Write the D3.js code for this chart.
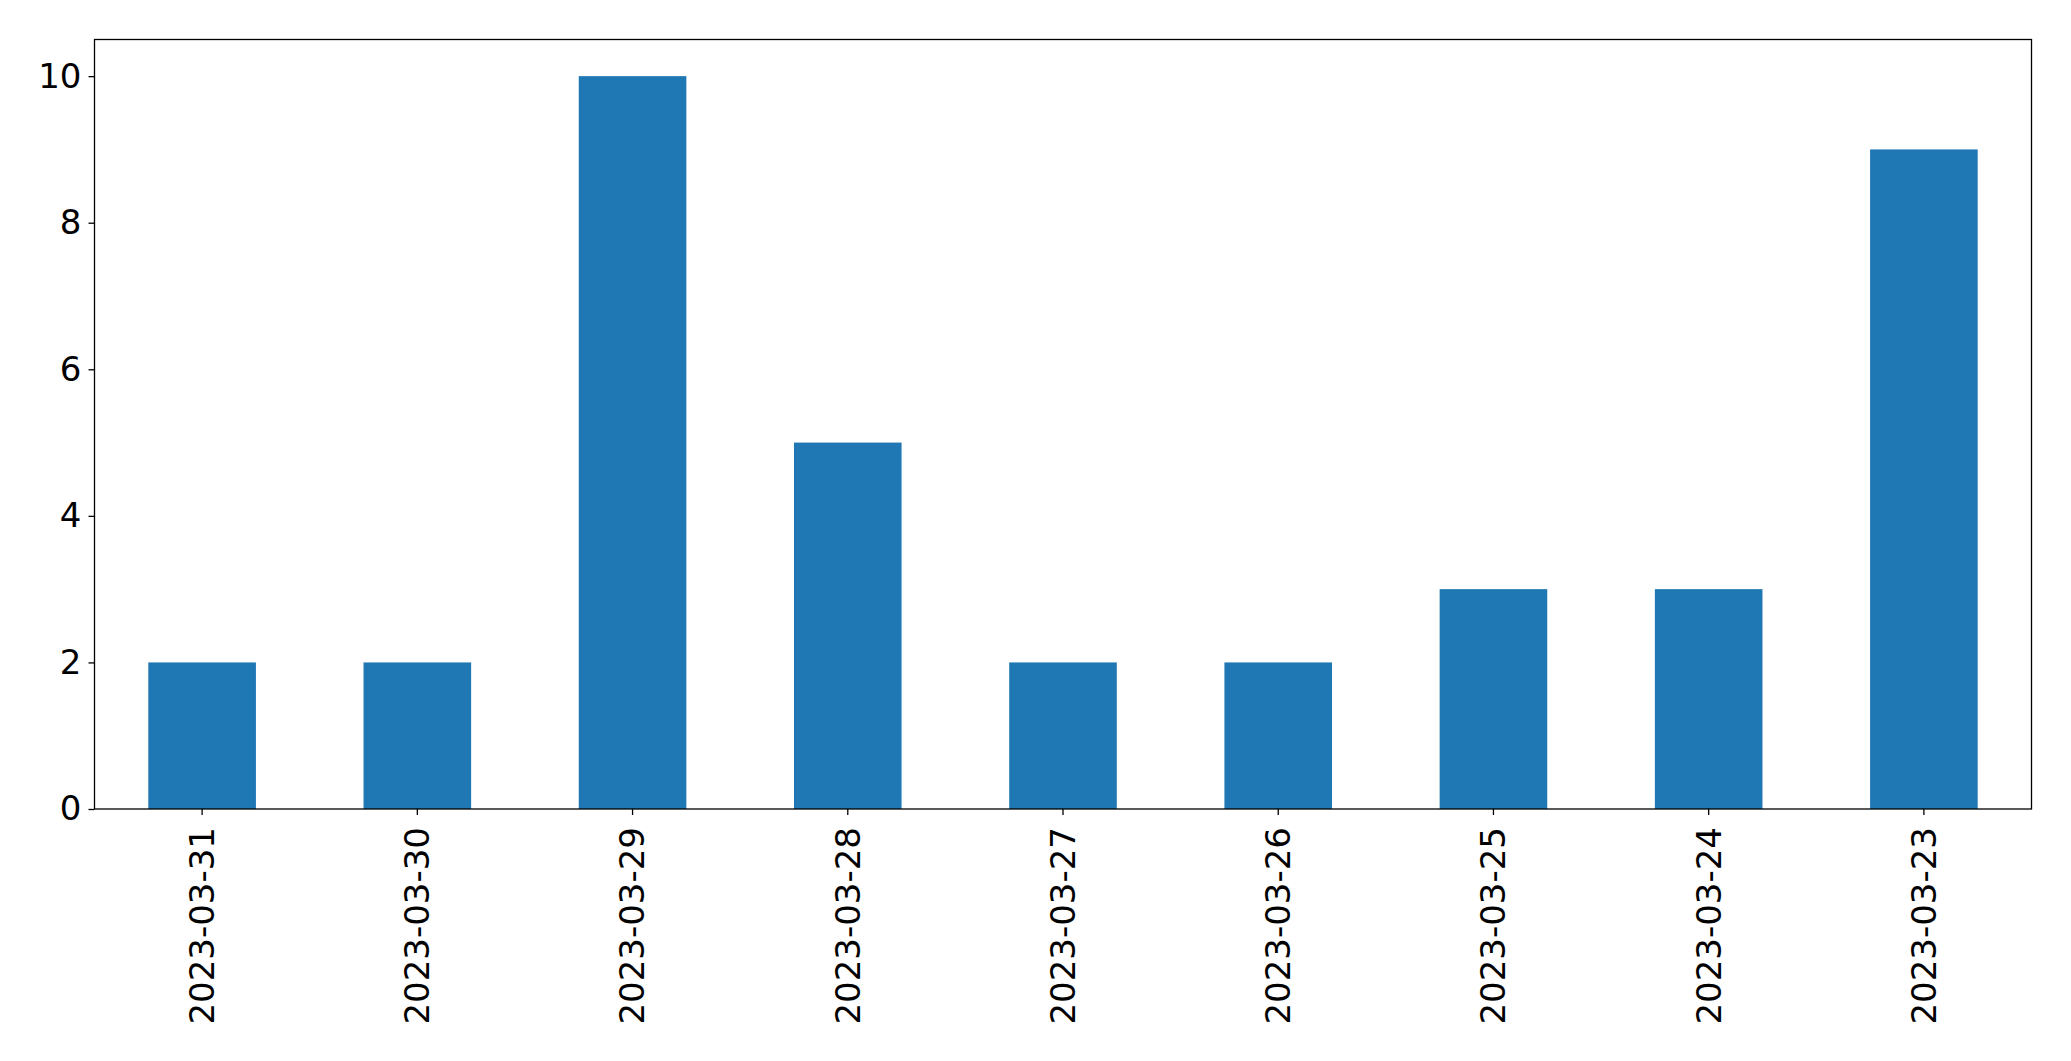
<!DOCTYPE html>
<html><head><meta charset="utf-8">
<script src="https://cdn.jsdelivr.net/npm/d3@7"></script>
<style>html,body{margin:0;padding:0;background:#fff;}svg{display:block;}</style>
</head><body>
<script>
const categories = ["2023-03-31","2023-03-30","2023-03-29","2023-03-28","2023-03-27","2023-03-26","2023-03-25","2023-03-24","2023-03-23"];
const values = [2,2,10,5,2,2,3,3,9];
const yTicks = [0,2,4,6,8,10];

const W = 2071, H = 1061;
const m = {left: 94.5, top: 39.5, right: 2071 - 2031.5, bottom: 1061 - 809};
const svg = d3.select("body").append("svg").attr("width", W).attr("height", H);
const x = d3.scaleBand().domain(categories).range([m.left, W - m.right]).paddingInner(0.5).paddingOuter(0.25);
const y = d3.scaleLinear().domain([0, 10.5]).range([H - m.bottom, m.top]);

svg.append("g").selectAll("rect").data(values).join("rect")
  .attr("x", (d, i) => x(categories[i]))
  .attr("width", x.bandwidth())
  .attr("y", d => y(d))
  .attr("height", d => y(0) - y(d))
  .attr("fill", "#1f77b4");

const font = "DejaVu Sans";
const fs = 34;

const ya = svg.append("g").attr("transform", `translate(${m.left},0)`)
  .call(d3.axisLeft(y).tickValues(yTicks).tickFormat(d3.format("d")).tickSize(6).tickPadding(7));
ya.select(".domain").remove();
ya.selectAll("line").attr("stroke", "#000").attr("stroke-width", 1.3);
ya.selectAll("text").attr("font-family", font).attr("font-size", fs).attr("fill", "#000");

const xa = svg.append("g").attr("transform", `translate(0,${H - m.bottom})`)
  .call(d3.axisBottom(x).tickSize(6).tickPadding(0));
xa.select(".domain").remove();
xa.selectAll("line").attr("stroke", "#000").attr("stroke-width", 1.3);
xa.selectAll("text").attr("font-family", font).attr("font-size", fs).attr("fill", "#000")
  .attr("transform", "rotate(-90)")
  .attr("text-anchor", "end")
  .attr("x", -18).attr("y", 0).attr("dy", "0.35em");

svg.append("rect").attr("x", m.left).attr("y", m.top)
  .attr("width", W - m.left - m.right).attr("height", H - m.top - m.bottom)
  .attr("fill", "none").attr("stroke", "#000").attr("stroke-width", 1.3);
</script>
</body></html>
